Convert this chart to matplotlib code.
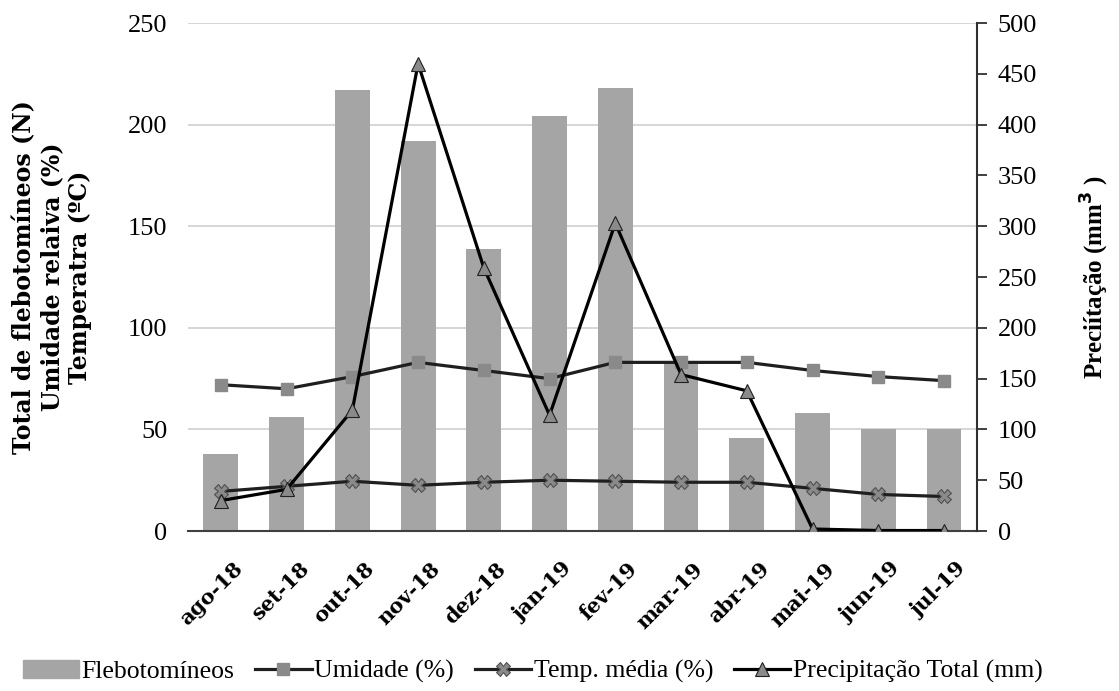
import numpy as np
import matplotlib.pyplot as plt
import matplotlib.transforms as mtransforms
from matplotlib.patches import Patch
from matplotlib.lines import Line2D

plt.rcParams['font.family'] = 'Liberation Serif'

# dados mensais
meses = ['ago-18', 'set-18', 'out-18', 'nov-18', 'dez-18', 'jan-19',
         'fev-19', 'mar-19', 'abr-19', 'mai-19', 'jun-19', 'jul-19']
flebotomineos = [38, 56, 217, 192, 139, 204, 218, 83, 46, 58, 50, 50]
umidade = [72, 70, 76, 83, 79, 75, 83, 83, 83, 79, 76, 74]
temp_media = [19.5, 22, 24.5, 22.5, 24, 25, 24.5, 24, 24, 21, 18, 17]
precipitacao = [30, 41, 119, 460, 259, 114, 303, 154, 138, 2, 0.5, 0.5]

x = np.arange(len(meses))

fig = plt.figure(figsize=(11.19, 6.91), dpi=100)
ax = fig.add_axes([0.168, 0.2315, 0.705, 0.7352])
ax2 = ax.twinx()

# barras
ax.bar(x, flebotomineos, width=0.53, color='#a5a5a5', zorder=2)

# umidade e temperatura no eixo esquerdo
ax.plot(x, umidade, color='#1f1f1f', lw=2.3, marker='s', ms=9,
        mfc='#8a8a8a', mec='#8a8a8a', zorder=3)
ax.plot(x, temp_media, color='#1f1f1f', lw=2.3, marker='X', ms=10,
        mfc='#8a8a8a', mec='#505050', mew=0.8, zorder=3)

# precipitação no eixo direito
ax2.plot(x, precipitacao, color='black', lw=2.3, marker='^', ms=10,
         mfc='#8a8a8a', mec='#202020', mew=0.8, zorder=4)

ax.set_xlim(-0.5, len(meses) - 0.5)
ax.set_ylim(0, 250)
ax.set_yticks(np.arange(0, 251, 50))
ax2.set_ylim(0, 500)
ax2.set_yticks(np.arange(0, 501, 50))

ax.grid(axis='y', color='#d0d0d0', lw=1.2, zorder=0)
ax.set_axisbelow(True)

for s in ['top', 'left', 'right']:
    ax.spines[s].set_visible(False)
for s in ['top', 'left', 'bottom']:
    ax2.spines[s].set_visible(False)
ax.spines['bottom'].set_color('#404040')
ax.spines['bottom'].set_linewidth(1.5)
ax2.spines['right'].set_color('#303030')
ax2.spines['right'].set_linewidth(1.5)

ax.tick_params(axis='y', length=0, labelsize=19, pad=15)
ax.tick_params(axis='x', length=0, pad=4)
ax2.tick_params(axis='y', length=7, width=1.3, color='#303030', labelsize=19, pad=8)

ax.set_xticks(x)
ax.set_xticklabels(meses, rotation=45, ha='right', va='top', rotation_mode='anchor',
                   fontsize=15, fontweight='bold', family='DejaVu Serif')
# desloca os rótulos do eixo x
desloc = mtransforms.ScaledTranslation(12 / 100, -22 / 100, fig.dpi_scale_trans)
for lbl in ax.get_xticklabels():
    lbl.set_transform(lbl.get_transform() + desloc)

ax.set_ylabel('Total de flebotomíneos (N)\nUmidade relaiva (%)\nTemperatra (ºC)',
              fontsize=17, fontweight='bold', family='DejaVu Serif',
              linespacing=1.2, labelpad=26)
ax2.set_ylabel('Preciítação (mm$^\\mathbf{3}$ )', fontsize=18, fontweight='bold',
               labelpad=30)

handles = [
    Patch(color='#a5a5a5'),
    Line2D([], [], color='#1f1f1f', lw=2.3, marker='s', ms=9, mfc='#8a8a8a', mec='#8a8a8a'),
    Line2D([], [], color='#1f1f1f', lw=2.3, marker='X', ms=10, mfc='#8a8a8a', mec='#505050', mew=0.8),
    Line2D([], [], color='black', lw=2.3, marker='^', ms=10, mfc='#8a8a8a', mec='#202020', mew=0.8),
]
labels = ['Flebotomíneos', 'Umidade (%)', 'Temp. média (%)', 'Precipitação Total (mm)']
fig.legend(handles, labels, loc='center', bbox_to_anchor=(0.476, 0.028), ncol=4,
           frameon=False, fontsize=18.5, handlelength=2.2, handletextpad=0.1,
           columnspacing=0.8)

fig.savefig('out.png', dpi=100)
